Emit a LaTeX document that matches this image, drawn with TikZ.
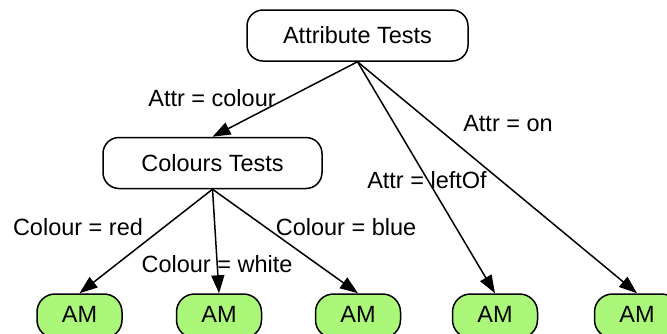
\documentclass[tikz,border=0pt]{standalone}
\usepackage{fontspec}
\setmainfont{Liberation Sans}
\usetikzlibrary{arrows.meta}
\definecolor{amgreen}{RGB}{170,247,122}
\begin{document}
\begin{tikzpicture}[x=1pt,y=-1pt,
  txt/.style={font=\fontsize{23.5}{28}\selectfont, inner sep=0pt},
  testbox/.style={txt, draw, line width=1.5pt, rounded corners=16pt, minimum width=#1, minimum height=51pt},
  ambox/.style={txt, draw, line width=1.5pt, fill=amgreen, rounded corners=18pt, minimum width=85pt, minimum height=44pt},
  conn/.style={line width=1.5pt, -{Triangle[length=18pt,width=13pt]}},
  lbl/.style={txt}
]
\useasboundingbox (0,0) rectangle (667,333);
\node[testbox=221pt] (attr) at (357.5,35.5) {Attribute Tests};
\node[testbox=219pt] (col) at (212.5,163) {Colours Tests};
\node[ambox] (am1) at (79.5,316) {\raisebox{3pt}{AM}};
\node[ambox] (am2) at (219,316) {\raisebox{3pt}{AM}};
\node[ambox] (am3) at (358,316) {\raisebox{3pt}{AM}};
\node[ambox] (am4) at (495,316) {\raisebox{3pt}{AM}};
\node[ambox] (am5) at (637,316) {\raisebox{3pt}{AM}};

\draw[conn] (attr.south) -- (col.north);
\draw[conn] (attr.south) -- (am4.north);
\draw[conn] (attr.south) -- (am5.north);
\draw[conn] (col.south) -- (am1.north);
\draw[conn] (col.south) -- (am2.north);
\draw[conn] (col.south) -- (am3.north);

\node[lbl] (lcolour) at (212,98) {Attr = colour};
\node[lbl] (lleft) at (427,180) {Attr = leftOf};
\node[lbl] (lon) at (508,124) {Attr = on};
\node[lbl] (lred) at (78,227) {Colour = red};
\node[lbl] (lwhite) at (217,264) {Colour = white};
\node[lbl] (lblue) at (346,227) {Colour = blue};
\end{tikzpicture}
\end{document}
